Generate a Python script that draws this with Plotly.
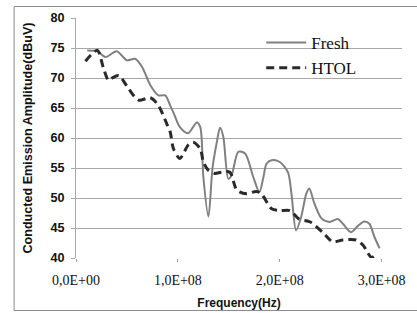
import plotly.graph_objects as go

# Data (frequency in Hz, amplitude in dBuV)
fresh_f = [0.11e8, 0.21e8, 0.29e8, 0.40e8, 0.50e8, 0.58e8, 0.65e8, 0.73e8, 0.81e8, 0.876e8,
           0.925e8, 0.96e8, 1.02e8, 1.10e8, 1.186e8, 1.22e8, 1.25e8, 1.30e8, 1.34e8, 1.38e8,
           1.414e8, 1.446e8, 1.495e8, 1.528e8, 1.593e8, 1.66e8, 1.74e8, 1.80e8, 1.84e8, 1.87e8,
           1.92e8, 2.00e8, 2.08e8, 2.115e8, 2.16e8, 2.21e8, 2.26e8, 2.29e8, 2.34e8, 2.41e8,
           2.49e8, 2.57e8, 2.62e8, 2.70e8, 2.77e8, 2.83e8, 2.88e8, 2.93e8, 2.98e8]
fresh_v = [74.6, 74.45, 73.5, 74.45, 72.95, 73.2, 71.8, 68.8, 67.1, 67.1,
           65.4, 64.1, 61.8, 60.8, 62.6, 61.8, 53.5, 46.9, 55.0, 59.1,
           61.7, 60.2, 53.2, 53.8, 57.7, 57.4, 53.5, 51.0, 53.5, 55.7,
           56.3, 56.0, 54.3, 50.7, 44.6, 46.8, 50.7, 51.6, 49.1, 46.6,
           46.0, 46.5, 45.7, 44.3, 45.4, 46.1, 45.7, 43.5, 41.6]

htol_f = [0.093e8, 0.21e8, 0.27e8, 0.32e8, 0.354e8, 0.42e8, 0.517e8, 0.614e8, 0.73e8, 0.81e8,
          0.89e8, 0.925e8, 0.957e8, 1.02e8, 1.10e8, 1.15e8, 1.22e8, 1.25e8, 1.30e8, 1.36e8,
          1.43e8, 1.51e8, 1.58e8, 1.675e8, 1.77e8, 1.82e8, 1.92e8, 2.00e8, 2.10e8, 2.19e8,
          2.30e8, 2.42e8, 2.52e8, 2.62e8, 2.75e8, 2.82e8, 2.85e8, 2.90e8, 2.95e8]
htol_v = [72.8, 74.6, 71.6, 69.6, 70.0, 70.4, 68.2, 66.3, 66.7, 65.4,
          62.4, 61.0, 58.2, 56.6, 58.8, 59.3, 58.2, 56.0, 54.6, 54.1,
          54.3, 54.3, 51.3, 50.7, 51.1, 50.7, 48.2, 47.9, 47.9, 46.5,
          46.0, 44.3, 42.7, 43.0, 43.0, 42.1, 41.3, 40.1, 40.7]

x_tickvals = [0, 1e8, 2e8, 3e8]
x_ticktext = ["0,0E+00", "1,0E+08", "2,0E+08", "3,0E+08"]
y_tickvals = [40, 45, 50, 55, 60, 65, 70, 75, 80]

fig = go.Figure()
fig.add_trace(go.Scatter(x=fresh_f, y=fresh_v, name="Fresh", mode="lines",
                         line=dict(color="#808080", width=2, shape="spline", smoothing=0.8)))
fig.add_trace(go.Scatter(x=htol_f, y=htol_v, name="HTOL", mode="lines",
                         line=dict(color="#2a2a2a", width=3, dash="8px,5px", shape="spline", smoothing=0.8)))

L, R, T, B = 75.5, 15, 18, 55
pw, ph = 417 - L - R, 313 - T - B

def px(x):
    return (x - L) / pw

def py(y):
    return (313 - B - y) / ph

shapes = [
    # outer chart frame (right edge lies outside the picture)
    dict(type="line", xref="paper", yref="paper", x0=px(13.5), x1=px(440), y0=py(6.5), y1=py(6.5),
         line=dict(color="#8c8c8c", width=1)),
    dict(type="line", xref="paper", yref="paper", x0=px(13.5), x1=px(440), y0=py(310.5), y1=py(310.5),
         line=dict(color="#8c8c8c", width=1)),
    dict(type="line", xref="paper", yref="paper", x0=px(13.5), x1=px(13.5), y0=py(6.5), y1=py(310.5),
         line=dict(color="#8c8c8c", width=1)),
    # legend background
    dict(type="rect", xref="paper", yref="paper", x0=px(250), x1=px(373), y0=py(27), y1=py(94),
         fillcolor="white", line=dict(width=0), layer="between"),
]

fig.update_layout(
    width=417, height=313,
    margin=dict(l=L, r=R, t=T, b=B, autoexpand=False),
    paper_bgcolor="white", plot_bgcolor="white",
    shapes=shapes,
    showlegend=True,
    legend=dict(x=px(261), y=py(25), xanchor="left", yanchor="top",
                bgcolor="rgba(0,0,0,0)",
                font=dict(family="Liberation Serif", size=17, color="#111"),
                tracegroupgap=0, itemwidth=40),
    xaxis=dict(range=[0, 3.2e8], tickvals=x_tickvals, ticktext=x_ticktext,
               showgrid=False, zeroline=False, showline=False,
               ticks="outside", ticklen=3, tickcolor="#a0a0a0",
               tickfont=dict(family="Liberation Serif", size=14, color="#111"),
               ticklabelstandoff=6,
               title=dict(text="Frequency(Hz)", standoff=11,
                          font=dict(family="Liberation Sans", size=12, color="#111", weight="bold"))),
    yaxis=dict(range=[40, 80], tickvals=y_tickvals,
               showgrid=True, gridcolor="#a8a8a8", gridwidth=1,
               zeroline=False, showline=True, linecolor="#a8a8a8", linewidth=1,
               ticks="outside", ticklen=4, tickcolor="#a8a8a8",
               tickfont=dict(family="Liberation Sans", size=12.6, color="#111", weight="bold"),
               ticklabelstandoff=4,
               title=dict(text="Conducted Emission Amplitude(dBuV)", standoff=15,
                          font=dict(family="Liberation Sans", size=12.6, color="#111", weight="bold"))),
)

fig.write_html("out.html", config={"displayModeBar": False},
               post_script="document.body.style.margin='0px';")
